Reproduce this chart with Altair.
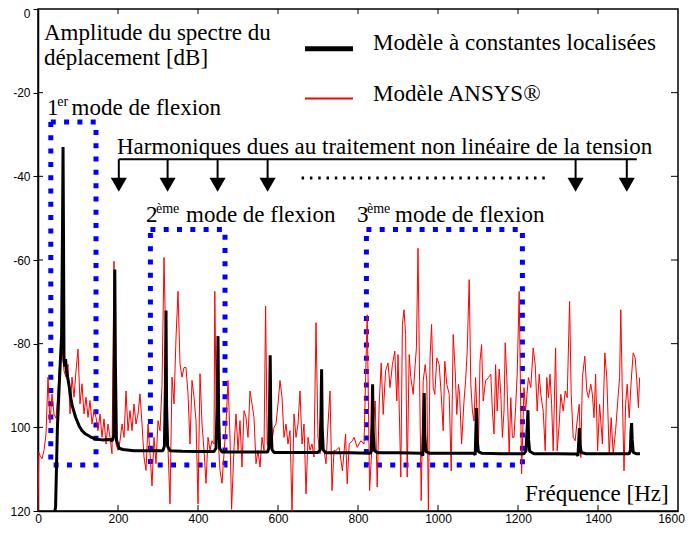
import altair as alt
import pandas as pd

# ---------------- data ----------------
red_freq = [0, 2, 5, 10, 15, 20, 25, 30, 35, 40, 45, 50, 55, 60, 65, 70, 75, 80, 85, 90,
            95, 100, 105, 110, 115, 120, 125, 130, 135, 140, 145, 150, 155, 160, 165, 170,
            175, 180, 185, 190, 195, 200, 205, 210, 215, 220, 225, 230, 235, 240, 245, 250,
            255, 260, 265, 270, 275, 280, 285, 290, 295, 300, 305, 310, 315, 320, 325, 330,
            335, 340, 345, 350, 355, 360, 365, 370, 375, 380, 385, 390, 395, 400, 405, 410,
            415, 420, 425, 430, 435, 440, 442, 446, 450, 455, 460, 465, 470, 475, 480, 484,
            490, 495, 500, 505, 510, 515, 520, 525, 530, 535, 540, 545, 550, 555, 560, 565,
            569, 573, 580, 585, 590, 595, 600, 605, 610, 615, 620, 625, 630, 635, 640, 645,
            650, 655, 660, 665, 670, 675, 680, 685, 690, 695, 700, 705, 710, 715, 720, 725,
            730, 735, 740, 744, 753, 761, 769, 773, 778, 786, 790, 798, 807, 815, 823, 829,
            836, 843, 848, 853, 858, 863, 869, 875, 880, 886, 892, 897, 900, 907, 911, 915,
            919, 923, 928, 932, 938, 943, 946, 950, 954, 958, 963, 968, 972, 976, 980, 984,
            988, 992, 997, 1003, 1008, 1013, 1017, 1022, 1028, 1033, 1038, 1043, 1047, 1051,
            1054, 1059, 1065, 1069, 1073, 1078, 1082, 1086, 1090, 1094, 1101, 1105, 1109,
            1113, 1119, 1126, 1132, 1136, 1140, 1144, 1148, 1153, 1157, 1161, 1165, 1168,
            1172, 1178, 1182, 1186, 1190, 1194, 1198, 1203, 1209, 1215, 1219, 1226, 1232,
            1238, 1243, 1248, 1253, 1257, 1263, 1268, 1272, 1276, 1280, 1284, 1288, 1294,
            1298, 1303, 1307, 1313, 1318, 1323, 1329, 1333, 1338, 1343, 1347, 1353, 1357,
            1361, 1367, 1372, 1376, 1382, 1386, 1390, 1394, 1399, 1404, 1411, 1417, 1422,
            1428, 1433, 1438, 1444, 1450, 1454, 1457, 1461, 1465, 1469, 1473, 1478, 1483,
            1488, 1493, 1497, 1501, 1504]
red_db = [-120, -106, -106.7, -107.5, -105.5, -101.6, -88, -99, -92, -97, -97.8, -91.3, -83.3,
          -80.9, -86.5, -88, -84.9, -96.8, -88, -92.8, -86.5, -81.3, -94.4, -89.6, -96.8,
          -92.8, -97.6, -93.6, -99.2, -96, -97.6, -100.8, -96.8, -102.4, -98, -104, -99.2,
          -102.4, -106.3, -60.3, -104, -105.5, -103.2, -99.2, -102.4, -91.3, -100.8, -96,
          -100.8, -94.4, -99.2, -96.8, -92, -99.2, -107.1, -110.3, -99.2, -106.3, -114,
          -102.4, -108.7, -98.4, -100.8, -90, -59.4, -82.5, -105, -118.3, -88, -94.4, -78.6,
          -67.5, -84.9, -88, -85.7, -85.7, -92, -104, -88.8, -92.8, -98.4, -118.3, -87.2,
          -99.2, -105.5, -113.4, -102.4, -105.5, -103.2, -104, -67.5, -100, -102.4, -110.3,
          -113.4, -106.3, -99.2, -88.8, -102.4, -119.6, -104.8, -96.8, -105.5, -98.4, -109.5,
          -96, -97.6, -102.4, -91.3, -94.4, -97.6, -108.7, -105.5, -109.5, -102.4, -105.5,
          -71, -104, -105, -103.2, -100, -99.2, -94.4, -88.8, -92.8, -102.4, -99.2, -104,
          -100.8, -120, -96.8, -102.4, -99.2, -91.3, -104, -99.2, -115.9, -102.4, -105.5,
          -104, -107.1, -75, -102.4, -106.3, -104, -105.5, -108.7, -99.2, -91.3, -115.1,
          -105.5, -105.6, -104.8, -110.4, -101.6, -113.5, -104, -103.2, -102.4, -104.8,
          -103.2, -104, -73.1, -115.1, -102.4, -93.7, -114.3, -94.5, -84.6, -96.9, -86.5,
          -84.6, -90.5, -85, -81.8, -93.7, -82.6, -111.9, -75.4, -71.9, -77.8, -111.9, -82.6,
          -88.1, -92.1, -85, -81, -57.2, -88.9, -117.5, -88.9, -85, -88.9, -119.9, -83.4,
          -75.4, -90.5, -92.1, -83.4, -85, -92.1, -100.8, -84.2, -89.7, -92.1, -110.4, -77.8,
          -86.5, -96.9, -89.7, -92.1, -104, -93.7, -88.9, -81.8, -64.7, -89.7, -96.1, -98.5,
          -88.1, -105.6, -84.2, -80.2, -93.7, -88.9, -88.1, -87.3, -96.1, -101.6, -85, -96.1,
          -86.1, -92.1, -102.4, -96.1, -79.8, -88.1, -106.4, -92.9, -102.4, -102.4, -95.3,
          -87.3, -67.5, -111.1, -90.5, -96.1, -88.1, -90.5, -81, -85, -96.1, -87.3, -92.1,
          -96.1, -105.6, -88.1, -92.9, -87.3, -94.5, -105.6, -81, -105.6, -99.2, -92.1,
          -96.1, -91.3, -92.9, -69.9, -92.1, -102.4, -103.2, -99.2, -94.5, -107.2, -88.1,
          -83, -91.3, -92.9, -89.7, -92.1, -97.7, -87.3, -105.6, -94.5, -104, -82.2, -88.1,
          -106.4, -97.7, -106.4, -100.8, -92.9, -88.1, -71.9, -92.9, -110.4, -94.5, -89.7,
          -97.7, -88.9, -82.2, -83.4, -88.9, -95.3, -88.1]

black_freq = [35, 44, 48.5, 53, 56, 59, 61.5, 62.6, 63.8, 65, 67, 69, 71, 74, 77.6, 82, 86, 94,
              102.6, 110, 119, 130, 144, 160, 177.6, 186, 189.5, 191, 192, 193.5, 196, 202.6,
              212.6, 240, 280, 312, 316, 318.5, 320, 321.5, 324, 330, 360, 400, 440, 445, 448,
              450, 451.5, 454, 460, 500, 540, 574, 577, 579, 580.5, 582, 585, 590, 650, 700,
              705, 707.5, 709, 710.5, 713, 720, 780, 830, 833, 835, 836.5, 838, 841, 850, 900,
              958, 962, 964, 965.5, 967, 970, 980, 1040, 1090, 1093, 1095, 1096.5, 1098, 1101,
              1110, 1160, 1215, 1220, 1223, 1225, 1226.5, 1229, 1240, 1300, 1347, 1350, 1352,
              1353.5, 1355, 1358, 1370, 1430, 1478, 1481, 1482.5, 1484, 1485.5, 1488, 1495, 1505]
black_db = [-124, -119, -100, -90, -84, -78, -50, -33, -55, -84, -85.5, -83.7, -86.5, -88, -90,
            -93, -95, -97.6, -99.6, -100.8, -101.6, -102.2, -102.8, -103, -102.9, -103.2, -102,
            -80, -62.3, -85, -103, -105, -105.3, -105.6, -105.6, -105.6, -104.5, -90, -72.1,
            -95, -104.5, -105.6, -105.7, -105.8, -105.8, -105, -95, -78.2, -97, -105, -105.9,
            -105.9, -105.9, -105.9, -105, -95, -82.8, -98, -105.3, -106, -106, -106, -105.4,
            -97, -86.1, -100, -105.4, -106.1, -106.1, -106.2, -105.8, -99, -89.7, -101, -105.6,
            -106.1, -106.1, -106.2, -106.8, -99, -91.8, -102, -105.8, -106.2, -106.2, -106.2,
            -106.6, -100, -95.4, -103, -105.8, -106.2, -106.3, -106.3, -105.6, -100, -95.9,
            -103, -105.7, -106.3, -106.3, -106.4, -106.8, -103, -100.2, -104, -106, -106.3,
            -106.3, -106.3, -105.5, -101, -99, -103, -106, -106.3, -106.3]

x_ticks = [0, 200, 400, 600, 800, 1000, 1200, 1400, 1600]
y_ticks = [0, -20, -40, -60, -80, -100, -120]

# annotation geometry (in data units)
box_f_left = [32, 281, 821]
box_f_right = [145, 467.5, 1211]
box_db_top = [-27, -52.7, -52.7]
box_db_bottom = [-109, -109, -109]
arrow_freq = [202, 324, 449, 574, 1344, 1472]

W, H = 640, 502
SERIF = "Liberation Serif, Times New Roman, serif"
SANS = "Liberation Sans, Arial, sans-serif"

xs = alt.Scale(domain=[0, 1600], nice=False, zero=False)
ys = alt.Scale(domain=[-120, 0], nice=False, zero=False)

x_axis = alt.Axis(values=x_ticks, format="d", title=None, grid=False, tickSize=0,
                  labelPadding=2, labelFont=SANS, labelFontSize=12, labelColor="black",
                  domainColor="black", domainWidth=1.5, labelFlush=False, labelOverlap=False,
                  labelOffset={"condition": {"test": "datum.value == 1600", "value": -7}, "value": 0})
y_axis = alt.Axis(values=y_ticks, title=None, grid=False, tickSize=5, tickColor="black",
                  labelPadding=3, labelFont=SANS, labelFontSize=12, labelColor="black",
                  domainColor="black", domainWidth=1.5, labelFlush=False, labelOverlap=False,
                  labelOffset={"condition": {"test": "datum.value == 0", "value": 4}, "value": 0},
                  labelExpr="datum.value == 0 ? '0' : (datum.value < -90 ? '' + (-datum.value) : '-' + (-datum.value))")

red_df = pd.DataFrame({"f": red_freq, "db": red_db})
black_df = pd.DataFrame({"f": black_freq, "db": black_db})
box_df = pd.DataFrame({"f1": box_f_left, "f2": box_f_right, "d1": box_db_top, "d2": box_db_bottom})

boxes = alt.Chart(box_df).mark_rect(fillOpacity=0, stroke="#0000ff", strokeWidth=5,
                                     strokeDash=[5, 8.3]).encode(
    x=alt.X("f1:Q", scale=xs, axis=x_axis), x2="f2:Q",
    y=alt.Y("d1:Q", scale=ys, axis=y_axis), y2="d2:Q")

red = alt.Chart(red_df).mark_line(color="#ff0000", strokeWidth=1, clip=True).encode(
    x=alt.X("f:Q", scale=xs), y=alt.Y("db:Q", scale=ys))

black = alt.Chart(black_df).mark_line(color="black", strokeWidth=3, clip=True,
                                      strokeJoin="bevel").encode(
    x=alt.X("f:Q", scale=xs), y=alt.Y("db:Q", scale=ys))

# inside ticks (top, bottom, left, right)
xt_df = pd.DataFrame({"t": x_ticks[1:-1]})
yt_df = pd.DataFrame({"t": y_ticks[1:-1]})
top_ticks = alt.Chart(xt_df).mark_rule(color="black", strokeWidth=1).encode(
    x=alt.X("t:Q", scale=xs), y=alt.value(0), y2=alt.value(5))
bot_ticks = alt.Chart(xt_df).mark_rule(color="black", strokeWidth=1).encode(
    x=alt.X("t:Q", scale=xs), y=alt.value(H), y2=alt.value(H - 6))
right_ticks = alt.Chart(yt_df).mark_rule(color="black", strokeWidth=1).encode(
    y=alt.Y("t:Q", scale=ys), x=alt.value(W), x2=alt.value(W - 7))
left_ticks = alt.Chart(yt_df).mark_rule(color="black", strokeWidth=1).encode(
    y=alt.Y("t:Q", scale=ys), x=alt.value(0), x2=alt.value(5))

# harmonics arrows
bracket = alt.Chart(pd.DataFrame({"a": [202], "b": [1497], "y": [-35.9]})).mark_rule(
    color="black", strokeWidth=2).encode(x=alt.X("a:Q", scale=xs), x2="b:Q", y=alt.Y("y:Q", scale=ys))
arr_df = pd.DataFrame({"f": arrow_freq, "y1": [-35.9] * 6, "y2": [-40.7] * 6, "yh": [-42.0] * 6})
shafts = alt.Chart(arr_df).mark_rule(color="black", strokeWidth=2).encode(
    x=alt.X("f:Q", scale=xs), y=alt.Y("y1:Q", scale=ys), y2="y2:Q")
heads = alt.Chart(arr_df).mark_point(shape="triangle-down", filled=True, color="black",
                                     opacity=1, size=260).encode(
    x=alt.X("f:Q", scale=xs), y=alt.Y("yh:Q", scale=ys))
dots = alt.Chart(pd.DataFrame({"a": [659], "b": [1279], "y": [-40.4]})).mark_rule(
    color="black", strokeWidth=3, strokeDash=[2.5, 5.8]).encode(
    x=alt.X("a:Q", scale=xs), x2="b:Q", y=alt.Y("y:Q", scale=ys))

# legend lines
leg_df = pd.DataFrame({"a": [667.5, 667.5], "b": [787.5, 787.5], "y": [-9.5, -21.4]})
leg_black = alt.Chart(leg_df.iloc[[0]]).mark_rule(color="black", strokeWidth=5).encode(
    x=alt.X("a:Q", scale=xs), x2="b:Q", y=alt.Y("y:Q", scale=ys))
leg_red = alt.Chart(leg_df.iloc[[1]]).mark_rule(color="#ff0000", strokeWidth=2).encode(
    x=alt.X("a:Q", scale=xs), x2="b:Q", y=alt.Y("y:Q", scale=ys))

big_text = pd.DataFrame({
    "f": [15, 15, 837.5, 837.5, 22.5, 84, 197.5, 270, 370, 797.5, 892.5, 1217.5],
    "db": [-7.3, -13.4, -9.8, -22.1, -25.4, -25.4, -34.7, -50.9, -50.9, -50.9, -50.9, -117.6],
    "txt": ["Amplitude du spectre du", "déplacement [dB]", "Modèle à constantes localisées",
            "Modèle ANSYS®", "1", "mode de flexion",
            "Harmoniques dues au traitement non linéaire de la tension",
            "2", "mode de flexion", "3", "mode de flexion", "Fréquence [Hz]"]})
small_text = pd.DataFrame({"f": [48, 295, 822.5], "db": [-23.3, -48.7, -48.7],
                           "txt": ["er", "ème", "ème"]})

t_big = alt.Chart(big_text).mark_text(font=SERIF, fontSize=23, align="left",
                                      baseline="alphabetic", color="black").encode(
    x=alt.X("f:Q", scale=xs), y=alt.Y("db:Q", scale=ys), text="txt:N")
t_small = alt.Chart(small_text).mark_text(font=SERIF, fontSize=14, align="left",
                                          baseline="alphabetic", color="black").encode(
    x=alt.X("f:Q", scale=xs), y=alt.Y("db:Q", scale=ys), text="txt:N")

chart = alt.layer(
    boxes, red, black, top_ticks, bot_ticks, right_ticks, left_ticks,
    bracket, shafts, heads, dots, leg_black, leg_red, t_big, t_small
).properties(
    width=W, height=H,
    autosize=alt.AutoSizeParams(type="none"),
    padding={"left": 30, "top": 1, "right": 7, "bottom": 14},
    background="white",
).configure_view(stroke="black", strokeWidth=1.5)

chart.save("out.html", embed_options={"renderer": "svg", "actions": False})
